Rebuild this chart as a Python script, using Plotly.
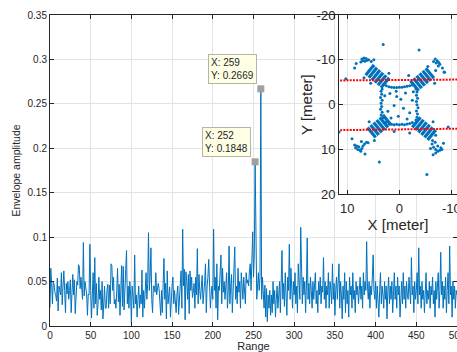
import plotly.graph_objects as go

# ---------------- main chart data ----------------
range_bins = list(range(0, 501))
envelope = [
    0.021, 0.065, 0.048, 0.025, 0.050, 0.047, 0.038, 0.035, 0.028, 0.054, 0.017, 0.045, 0.040, 0.035, 0.060, 0.024, 0.045, 0.062, 0.040, 0.015,
    0.048, 0.036, 0.050, 0.030, 0.040, 0.052, 0.015, 0.045, 0.058, 0.035, 0.052, 0.014, 0.040, 0.050, 0.046, 0.069, 0.067, 0.042, 0.055, 0.033,
    0.030, 0.094, 0.034, 0.050, 0.044, 0.036, 0.012, 0.036, 0.035, 0.092, 0.040, 0.009, 0.035, 0.060, 0.020, 0.077, 0.025, 0.048, 0.012, 0.024,
    0.055, 0.030, 0.040, 0.018, 0.050, 0.008, 0.025, 0.045, 0.020, 0.020, 0.040, 0.047, 0.020, 0.046, 0.025, 0.070, 0.068, 0.040, 0.055, 0.025,
    0.030, 0.020, 0.040, 0.065, 0.027, 0.047, 0.012, 0.045, 0.068, 0.022, 0.067, 0.018, 0.040, 0.055, 0.085, 0.025, 0.045, 0.020, 0.050, 0.036,
    0.003, 0.045, 0.032, 0.020, 0.080, 0.025, 0.035, 0.010, 0.030, 0.045, 0.020, 0.035, 0.025, 0.063, 0.010, 0.040, 0.020, 0.045, 0.060, 0.030,
    0.048, 0.105, 0.040, 0.055, 0.088, 0.030, 0.015, 0.045, 0.045, 0.038, 0.060, 0.035, 0.046, 0.048, 0.042, 0.025, 0.012, 0.040, 0.015, 0.048,
    0.076, 0.030, 0.048, 0.008, 0.062, 0.025, 0.038, 0.044, 0.010, 0.035, 0.046, 0.055, 0.025, 0.040, 0.030, 0.015, 0.036, 0.045, 0.013, 0.030,
    0.040, 0.062, 0.020, 0.109, 0.045, 0.064, 0.007, 0.061, 0.050, 0.030, 0.058, 0.014, 0.062, 0.040, 0.055, 0.032, 0.038, 0.048, 0.020, 0.055,
    0.035, 0.087, 0.025, 0.058, 0.040, 0.030, 0.045, 0.057, 0.025, 0.035, 0.050, 0.070, 0.015, 0.045, 0.055, 0.075, 0.038, 0.020, 0.035, 0.045,
    0.030, 0.109, 0.040, 0.055, 0.020, 0.070, 0.007, 0.045, 0.040, 0.060, 0.080, 0.025, 0.065, 0.038, 0.050, 0.030, 0.045, 0.060, 0.020, 0.040,
    0.090, 0.025, 0.045, 0.058, 0.015, 0.040, 0.055, 0.089, 0.030, 0.045, 0.025, 0.065, 0.038, 0.050, 0.020, 0.060, 0.045, 0.030, 0.055, 0.040,
    0.025, 0.060, 0.048, 0.052, 0.045, 0.062, 0.070, 0.040, 0.075, 0.106, 0.055, 0.080, 0.1848, 0.050, 0.030, 0.045, 0.060, 0.040, 0.055, 0.2669,
    0.030, 0.055, 0.040, 0.020, 0.046, 0.010, 0.042, 0.005, 0.035, 0.020, 0.040, 0.012, 0.035, 0.015, 0.050, 0.025, 0.040, 0.010, 0.030, 0.045,
    0.020, 0.035, 0.050, 0.015, 0.040, 0.085, 0.030, 0.048, 0.022, 0.060, 0.035, 0.012, 0.055, 0.040, 0.092, 0.030, 0.065, 0.045, 0.020, 0.050,
    0.035, 0.060, 0.025, 0.045, 0.015, 0.070, 0.040, 0.030, 0.111, 0.045, 0.025, 0.055, 0.035, 0.050, 0.015, 0.045, 0.099, 0.030, 0.048, 0.025,
    0.055, 0.040, 0.020, 0.050, 0.030, 0.045, 0.060, 0.025, 0.040, 0.015, 0.050, 0.035, 0.055, 0.025, 0.045, 0.038, 0.077, 0.030, 0.050, 0.020,
    0.045, 0.035, 0.060, 0.020, 0.050, 0.040, 0.025, 0.070, 0.030, 0.048, 0.012, 0.040, 0.055, 0.030, 0.045, 0.070, 0.020, 0.050, 0.035, 0.008,
    0.045, 0.030, 0.060, 0.015, 0.050, 0.025, 0.040, 0.010, 0.055, 0.035, 0.045, 0.020, 0.060, 0.030, 0.040, 0.015, 0.050, 0.035, 0.045, 0.025,
    0.040, 0.055, 0.030, 0.045, 0.020, 0.060, 0.035, 0.050, 0.040, 0.095, 0.045, 0.030, 0.050, 0.020, 0.045, 0.035, 0.055, 0.080, 0.040, 0.030,
    0.050, 0.020, 0.045, 0.030, 0.010, 0.040, 0.060, 0.025, 0.045, 0.035, 0.020, 0.050, 0.030, 0.045, 0.008, 0.040, 0.055, 0.025, 0.045, 0.030,
    0.050, 0.015, 0.040, 0.060, 0.030, 0.045, 0.020, 0.055, 0.035, 0.045, 0.010, 0.040, 0.050, 0.025, 0.060, 0.030, 0.045, 0.020, 0.050, 0.035,
    0.030, 0.055, 0.040, 0.025, 0.077, 0.035, 0.045, 0.015, 0.050, 0.030, 0.040, 0.060, 0.025, 0.088, 0.035, 0.045, 0.020, 0.050, 0.030, 0.040,
    0.015, 0.045, 0.060, 0.025, 0.040, 0.030, 0.050, 0.020, 0.045, 0.035, 0.055, 0.025, 0.040, 0.010, 0.050, 0.030, 0.045, 0.060, 0.020, 0.040,
    0.083, 0.035, 0.050, 0.020, 0.045, 0.030, 0.055, 0.015, 0.040, 0.060, 0.025, 0.090, 0.035, 0.045, 0.010, 0.050, 0.030, 0.045, 0.020, 0.040,
    0.035,
]

tip_x = [259, 252]
tip_y = [0.2669, 0.1848]

x_ticks = [0, 50, 100, 150, 200, 250, 300, 350, 400, 450, 500]
x_tick_labels = ["0", "50", "100", "150", "200", "250", "300", "350", "400", "450", "500"]
y_ticks = [0, 0.05, 0.1, 0.15, 0.2, 0.25, 0.3, 0.35]
y_tick_labels = ["0", "0.05", "0.1", "0.15", "0.2", "0.25", "0.3", "0.35"]

# ---------------- inset data ----------------
# dense striped blocks: each stripe is a short segment (x0,y0)-(x1,y1)
stripe_x0 = [1.94, 2.53, 3.12, 3.71, 4.30, 4.89,
             -2.14, -2.73, -3.32, -3.91, -4.50, -5.09,
             1.59, 2.18, 2.77, 3.36, 3.95, 4.54,
             -2.49, -3.08, -3.67, -4.26, -4.85, -5.44]
stripe_y0 = [-6.02, -6.58, -7.14, -7.70, -8.26, -8.82,
             -5.32, -5.88, -6.44, -7.00, -7.56, -8.12,
             4.52, 5.08, 5.64, 6.20, 6.76, 7.32,
             5.07, 5.63, 6.19, 6.75, 7.31, 7.87]
stripe_x1 = [3.52, 4.11, 4.70, 5.29, 5.88, 6.47,
             -3.72, -4.31, -4.90, -5.49, -6.08, -6.67,
             3.17, 3.76, 4.35, 4.94, 5.53, 6.12,
             -4.07, -4.66, -5.25, -5.84, -6.43, -7.02]
stripe_y1 = [-3.78, -4.34, -4.90, -5.46, -6.02, -6.58,
             -3.08, -3.64, -4.20, -4.76, -5.32, -5.88,
             2.28, 2.84, 3.40, 3.96, 4.52, 5.08,
             2.83, 3.39, 3.95, 4.51, 5.07, 5.63]

pts_x = [
    # inner ring top
    3.0, 2.5, 2.0, 1.5, 1.0, 0.5, 0.0, -0.5, -1.0, -1.5, -2.0, -2.5,
    # left
    3.3, 3.5, 3.4, 3.6, 3.3, 3.5, 3.4, 3.6, 3.3, 3.5, 3.2,
    # right
    -3.2, -3.4, -3.3, -3.5, -3.3, -3.4, -3.6, -3.3, -3.5, -3.4, -3.2,
    # bottom
    2.6, 2.0, 1.5, 1.0, 0.5, 0.0, -0.5, -1.0, -1.5, -2.0, -2.5,
    # interior
    1.8, 0.5, -1.2, -2.5, 1.0, -0.8, 2.2, -2.0, 0.2, -1.5, 1.6, 0.6, -2.7, 2.8, -0.3,
    # near blocks
    5.5, 6.8, 2.0, -1.8, -6.8, -5.5, 1.0, 5.8, -2.0, -6.5, -7.0, 4.8,
    # top-left cluster
    7.2, 6.8, 6.4, 7.0, 6.2, 5.9, 7.4, 6.6, 8.3, 5.4, 4.9, 5.0, 8.6,
    # top-right cluster
    -6.9, -7.3, -7.6, -7.8, -7.1, -7.5, -6.6, -8.3, -7.0, -8.7,
    # bottom-left cluster
    8.6, 8.4, 8.0, 7.6, 7.2, 7.8, 8.2, 7.0, 6.7, 6.3, 6.0, 9.1, 7.4, 6.6, 7.3,
    # bottom-right cluster
    -6.3, -6.6, -7.0, -7.4, -7.8, -8.0, -7.4, -6.9, -6.4, -8.5, -7.0, -6.5, -8.2, -6.0,
    # outliers
    3.1, -3.8, 3.85, -5.3, 10.3, 11.6, -9.4, -8.6,
]
pts_y = [
    -4.5, -4.2, -4.0, -3.9, -3.8, -3.8, -3.9, -3.9, -4.0, -4.1, -4.2, -4.4,
    -3.5, -3.0, -2.3, -1.6, -1.0, -0.3, 0.4, 1.0, 1.7, 2.3, 2.9,
    -3.5, -2.8, -2.1, -1.4, -0.7, 0.0, 0.7, 1.4, 2.1, 2.8, 3.4,
    4.0, 4.3, 4.4, 4.5, 4.4, 4.5, 4.4, 4.5, 4.3, 4.2, 4.0,
    -2.5, -1.8, -2.6, -1.0, 0.2, 0.8, 1.5, 1.8, 2.6, 3.2, 3.0, -3.0, -2.9, -2.0, -1.2,
    -4.8, -6.0, -7.0, -6.5, -4.8, -8.5, 6.0, 3.8, 6.3, 3.8, 6.8, 8.0,
    -10.2, -10.4, -10.3, -9.8, -9.9, -10.0, -9.5, -9.7, -9.2, -9.6, -10.0, -8.6, -8.2,
    -10.2, -9.8, -9.4, -9.0, -9.3, -8.6, -9.6, -8.2, -7.6, -7.2,
    9.0, 9.6, 10.0, 10.1, 9.8, 9.4, 9.2, 9.2, 8.8, 8.4, 8.5, 7.6, 10.4, 11.0, 8.2,
    8.8, 9.5, 10.0, 10.4, 10.2, 9.6, 9.2, 8.4, 8.0, 8.6, 10.8, 11.2, 10.0, 9.8,
    -13.4, -12.2, 12.8, 15.6, -5.8, 6.1, 5.0, -7.3,
]

red_x = [12, -12]
red_upper_y = [-5.4, -5.6]
red_lower_y = [5.7, 5.35]

inset_x_ticks = [10, 0, -10]
inset_x_labels = ["10", "0", "-10"]
inset_y_ticks = [-20, -10, 0, 10, 20]
inset_y_labels = ["-20", "-10", "0", "10", "20"]

# ---------------- styling ----------------
BLUE = "#0072BD"
AX = "#262626"
GRID = "#e3e3e3"
FONT = "Liberation Sans"

fig = go.Figure()

fig.add_trace(go.Scatter(x=range_bins, y=envelope, mode="lines",
                         line=dict(color=BLUE, width=1), xaxis="x", yaxis="y",
                         hoverinfo="skip", showlegend=False))
fig.add_trace(go.Scatter(x=tip_x, y=tip_y, mode="markers",
                         marker=dict(symbol="square", size=7, color="#a0a0a0",
                                     line=dict(width=0)),
                         xaxis="x", yaxis="y", showlegend=False))

# inset: stripes
sx, sy = [], []
for a, b, c, d in zip(stripe_x0, stripe_y0, stripe_x1, stripe_y1):
    sx += [a, c, None]
    sy += [b, d, None]
fig.add_trace(go.Scatter(x=sx, y=sy, mode="lines", line=dict(color=BLUE, width=3.2),
                         xaxis="x2", yaxis="y2", showlegend=False))
fig.add_trace(go.Scatter(x=pts_x, y=pts_y, mode="markers",
                         marker=dict(color=BLUE, size=3, line=dict(width=0)),
                         xaxis="x2", yaxis="y2", showlegend=False))
for ry in (red_upper_y, red_lower_y):
    fig.add_trace(go.Scatter(x=red_x, y=ry, mode="lines",
                             line=dict(color="#ff0000", width=2, dash="2px,1.2px"),
                             xaxis="x2", yaxis="y2", showlegend=False))

# datatip annotations
tip_text = ["X: 259<br>Y: 0.2669", "X: 252<br>Y: 0.1848"]
for xv, yv, t in zip(tip_x, tip_y, tip_text):
    fig.add_annotation(x=xv, y=yv, xref="x", yref="y", text=t, showarrow=False,
                       xanchor="right", yanchor="bottom", xshift=-4, yshift=5,
                       align="left", bgcolor="#ffffe6", bordercolor="#b4b4a8",
                       borderwidth=1, borderpad=2,
                       font=dict(family=FONT, size=10, color="#262626"))

# white background for inset (drawn above main subplot)
fig.add_shape(type="rect", xref="x2 domain", yref="y2 domain", x0=0, x1=1, y0=0, y1=1,
              fillcolor="white", line=dict(width=0), layer="below")

axis_common = dict(showline=True, linecolor=AX, linewidth=1, mirror="ticks",
                   ticks="inside", tickcolor=AX, showgrid=True, gridcolor=GRID,
                   gridwidth=1, zeroline=False, ticklabeloverflow="allow",
                   automargin=False)

fig.update_layout(
    width=457, height=352,
    margin=dict(l=50, r=0, t=15, b=26, autoexpand=False),
    paper_bgcolor="white", plot_bgcolor="white",
    font=dict(family=FONT, size=10, color=AX),
    xaxis=dict(domain=[0, 1], range=[0, 500], tickvals=x_ticks, ticktext=x_tick_labels,
               ticklen=4, title=dict(text="Range", font=dict(size=11), standoff=8),
               tickfont=dict(size=10), **axis_common),
    yaxis=dict(domain=[0, 1], range=[0, 0.35], tickvals=y_ticks, ticktext=y_tick_labels,
               ticklen=4, title=dict(text="Envelope amplitude", font=dict(size=10.5), standoff=4),
               tickfont=dict(size=10), **axis_common),
    xaxis2=dict(domain=[0.7101, 1.0], range=[11.6, -11.1], tickvals=inset_x_ticks,
                ticktext=inset_x_labels, ticklabelstandoff=2,
                ticklen=4, anchor="y2", tickfont=dict(size=13),
                title=dict(text="X [meter]", font=dict(size=15), standoff=0), **axis_common),
    yaxis2=dict(domain=[0.4235, 1.0], range=[20, -20], tickvals=inset_y_ticks,
                ticktext=inset_y_labels,
                ticklen=4, anchor="x2", tickfont=dict(size=13),
                title=dict(text="Y [meter]", font=dict(size=15), standoff=0), **axis_common),
    showlegend=False,
)

fig.write_html("out.html", config={"displayModeBar": False},
               post_script="document.body.style.margin='0';document.body.style.padding='0';")
